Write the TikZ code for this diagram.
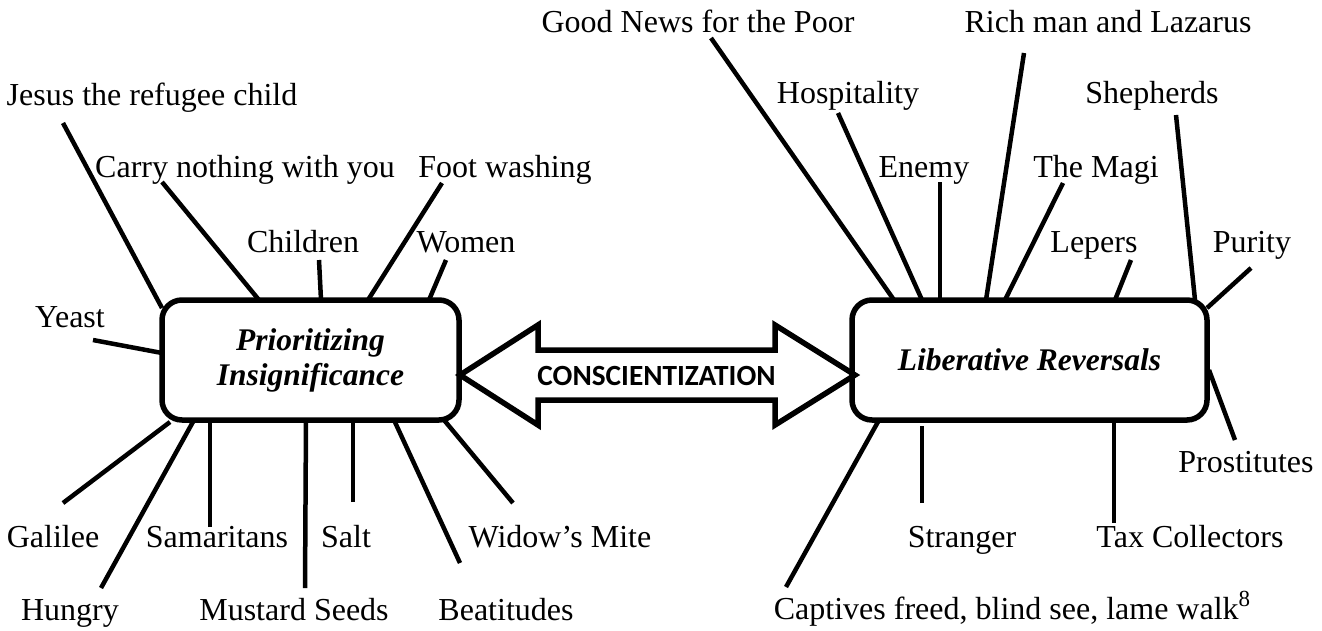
\documentclass[tikz,border=0pt]{standalone}
\usepackage{fontspec}
\setmainfont{Liberation Serif}
\newfontfamily\arrowfont{Carlito}
\begin{document}
\begin{tikzpicture}[x=1pt,y=-1pt,
  lbl/.style={anchor=base,inner sep=0pt,font=\fontsize{32}{36}\selectfont},
  topic/.style={draw,line width=5.5pt,rounded corners=20pt,align=center,
    font=\fontsize{31.5}{35}\selectfont\bfseries\itshape,inner sep=0pt},
  conn/.style={line width=4.5pt},
  bigarrow/.style={line width=5.5pt,miter limit=10}]
\useasboundingbox (0,0) rectangle (1322,630);
% topic boxes
\node[topic,minimum width=297pt,minimum height=120pt] (L) at (310.5,360) {Prioritizing\\Insignificance};
\node[topic,minimum width=355pt,minimum height=120pt] (R) at (1029.5,360) {Liberative Reversals};
% double arrow
\draw[bigarrow] (460,375) -- (538,325) -- (538,350) -- (775,350) -- (775,325) -- (855,375)
  -- (775,425) -- (775,400) -- (538,400) -- (538,425) -- cycle;
\node[inner sep=0pt,font=\arrowfont\bfseries\fontsize{29.3}{32}\selectfont] (C) at (656.5,376) {CONSCIENTIZATION};
% labels
\node[lbl] (goodnews) at (698,32) {Good News for the Poor};
\node[lbl] (rich) at (1108,32) {Rich man and Lazarus};
\node[lbl] (jesus) at (152,105) {Jesus the refugee child};
\node[lbl] (hosp) at (848,103) {Hospitality};
\node[lbl] (shep) at (1152,103) {Shepherds};
\node[lbl] (carry) at (245,177) {Carry nothing with you};
\node[lbl] (foot) at (505,177) {Foot washing};
\node[lbl] (enemy) at (924,177) {Enemy};
\node[lbl] (magi) at (1096,177) {The Magi};
\node[lbl] (children) at (303,252) {Children};
\node[lbl] (women) at (466,252) {Women};
\node[lbl] (lepers) at (1094,252) {Lepers};
\node[lbl] (purity) at (1252,252) {Purity};
\node[lbl] (yeast) at (70,327) {Yeast};
\node[lbl] (prost) at (1246,472) {Prostitutes};
\node[lbl] (galilee) at (53,547) {Galilee};
\node[lbl] (samar) at (217,547) {Samaritans};
\node[lbl] (salt) at (346,547) {Salt};
\node[lbl] (widow) at (560,547) {Widow’s Mite};
\node[lbl] (stranger) at (962,547) {Stranger};
\node[lbl] (tax) at (1190,547) {Tax Collectors};
\node[lbl] (hungry) at (70,620) {Hungry};
\node[lbl] (mustard) at (294,620) {Mustard Seeds};
\node[lbl] (beat) at (506,620) {Beatitudes};
\node[lbl] (capt) at (1012,619) {Captives freed, blind see, lame walk\raisebox{13pt}{\fontsize{23}{23}\selectfont 8}};
% connector end points
\coordinate (jesusA) at (63,123);    \coordinate (jesusB) at (162,308);
\coordinate (carryA) at (162,182);   \coordinate (carryB) at (259,300);
\coordinate (childA) at (319,260);   \coordinate (childB) at (321,300);
\coordinate (footA) at (442,183);    \coordinate (footB) at (368,300);
\coordinate (womenA) at (446,260);   \coordinate (womenB) at (429,300);
\coordinate (yeastA) at (93,340);    \coordinate (yeastB) at (162,353);
\coordinate (galA) at (63,503);      \coordinate (galB) at (170,422);
\coordinate (hungA) at (101,588);    \coordinate (hungB) at (194,420);
\coordinate (samA) at (210,527);     \coordinate (samB) at (210,420);
\coordinate (musA) at (305,588);     \coordinate (musB) at (306,420);
\coordinate (saltA) at (353,502);    \coordinate (saltB) at (353,420);
\coordinate (beatA) at (460,563);    \coordinate (beatB) at (394,420);
\coordinate (widA) at (513,503);     \coordinate (widB) at (444,420);
\coordinate (goodA) at (711,38);     \coordinate (goodB) at (894,300);
\coordinate (hospA) at (838,113);    \coordinate (hospB) at (922,300);
\coordinate (enemyA) at (940,182);   \coordinate (enemyB) at (940,300);
\coordinate (richA) at (1024,53);    \coordinate (richB) at (986,300);
\coordinate (magiA) at (1063,183);   \coordinate (magiB) at (1005,300);
\coordinate (lepA) at (1131,260);    \coordinate (lepB) at (1115,300);
\coordinate (shepA) at (1176,115);   \coordinate (shepB) at (1195,300);
\coordinate (purA) at (1251,268);    \coordinate (purB) at (1207,308);
\coordinate (prosA) at (1235,440);   \coordinate (prosB) at (1209,370);
\coordinate (captA) at (786,587);    \coordinate (captB) at (879,420);
\coordinate (strA) at (922,503);     \coordinate (strB) at (922,426);
\coordinate (taxA) at (1114,523);    \coordinate (taxB) at (1114,420);
% connectors
\foreach \p in {jesus,carry,child,foot,women,yeast,gal,hung,sam,mus,salt,beat,wid,
  good,hosp,enemy,rich,magi,lep,shep,pur,pros,capt,str,tax}
  \draw[conn] (\p A) -- (\p B);
\end{tikzpicture}
\end{document}
